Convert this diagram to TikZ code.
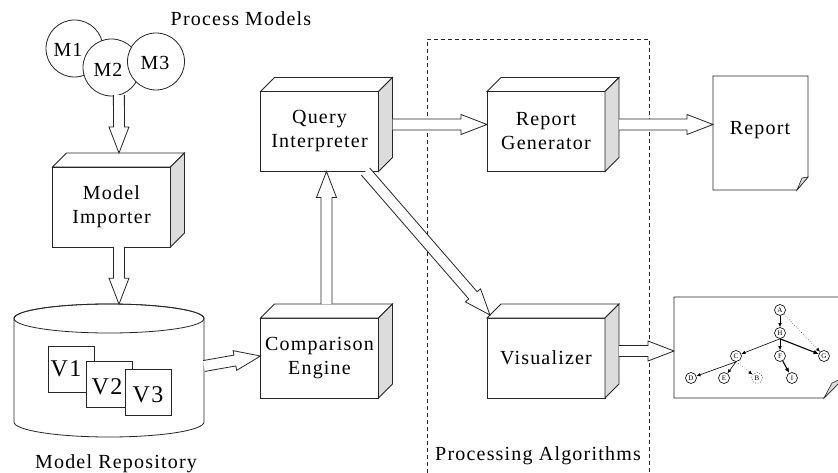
\documentclass[tikz,border=0pt]{standalone}
\usepackage{fontspec}
\setmainfont{Liberation Serif}[LetterSpace=6]
\usetikzlibrary{calc,arrows.meta}
\definecolor{sidegray}{HTML}{DCDCDC}
\definecolor{edgecol}{HTML}{262626}
\tikzset{
  box/.style={draw=edgecol, fill=white, minimum width=118pt, minimum height=80pt,
    inner sep=0pt, outer sep=0pt, align=center},
  mcirc/.style={circle, draw=edgecol, fill=white, minimum size=57pt, inner sep=0pt, outer sep=0pt},
  vsq/.style={draw=edgecol, fill=white, minimum size=46pt, inner sep=0pt, outer sep=0pt},
  harrowline/.style={draw=edgecol, fill=white, line width=0.8pt, line join=miter},
  gnode/.style={circle, draw=black, minimum size=11pt, inner sep=0pt, line width=0.6pt,
    font=\fontsize{7}{7}\selectfont},
  gedge/.style={-{Latex[length=4pt,width=3.5pt]}, line width=0.6pt},
  gthick/.style={-{Latex[length=5pt,width=4.5pt]}, line width=1.1pt},
  gdot/.style={-{Latex[length=4pt,width=3.5pt]}, line width=0.5pt, dotted},
}
\newcommand\harrow[2]{%
  \coordinate (hb) at ($(#2)!26pt!(#1)$);
  \filldraw[harrowline] ($(#1)!5.5pt!90:(#2)$) -- ($(hb)!5.5pt!90:(#2)$) -- ($(hb)!10pt!90:(#2)$) -- (#2)
    -- ($(hb)!10pt!-90:(#2)$) -- ($(hb)!5.5pt!-90:(#2)$) -- ($(#1)!5.5pt!-90:(#2)$);
}
\begin{document}
\begin{tikzpicture}[x=1pt, y=-1pt, line width=0.8pt, font=\fontsize{20}{24}\selectfont]
\useasboundingbox (0,0) rectangle (838,473);
\fill[white] (0,0) rectangle (838,473);

% dashed processing area
\draw[edgecol, line width=0.7pt, dash pattern=on 4pt off 3pt] (427,480) -- (427,39) -- (649,39) -- (649,480);
\node[anchor=base] (palabel) at (538,460) {Processing Algorithms};

% process models
\node[anchor=base west] (pmlabel) at (167,26) {Process Models};
\node[mcirc] (m1) at (74.5,48.5) {};
\node (m1l) at (68,50) {M1};
\node[mcirc] (m2) at (111.5,67.5) {};
\node (m2l) at (108,70) {M2};
\node[mcirc] (m3) at (156,61.5) {};
\node (m3l) at (155,63) {M3};

% boxes
\node[box] (mi) at (111.5,207) {Model\\Importer};
\node[box] (qi) at (319.5,131.5) {Query\\Interpreter};
\node[box] (ce) at (319.5,358) {Comparison\\Engine};
\node[box] (rg) at (546,131.5) {Report\\Generator};
\node[box] (vi) at (546,358) {Visualizer};
\foreach \n in {mi,qi,ce,rg,vi}{
  \filldraw[draw=edgecol, fill=white] (\n.north west) -- ++(14,-14) -- ($(\n.north east)+(14,-14)$) -- (\n.north east) -- cycle;
  \filldraw[draw=edgecol, fill=sidegray] (\n.north east) -- ++(14,-14) -- ($(\n.south east)+(14,-14)$) -- (\n.south east) -- cycle;
}

% repository cylinder
\filldraw[draw=edgecol, fill=white] (14,318.5) -- (14,422) arc[start angle=180, end angle=360, x radius=95pt, y radius=15pt]
  -- (204,318.5) arc[start angle=0, end angle=180, x radius=95pt, y radius=14.5pt] -- cycle;
\draw[edgecol] (109,318.5) ellipse [x radius=95pt, y radius=14.5pt];
\coordinate (dbtop) at (119,304.2);
\coordinate (dbright) at (204,366);
\node[vsq] (v1) at (71,369.5) {};
\node[font=\fontsize{24}{24}\selectfont] (v1l) at (66,369) {V1};
\node[vsq] (v2) at (109.5,384.5) {};
\node[font=\fontsize{24}{24}\selectfont] (v2l) at (107,387) {V2};
\node[vsq] (v3) at (148.5,392.5) {};
\node[font=\fontsize{24}{24}\selectfont] (v3l) at (148,395) {V3};
\node[anchor=base] (mrlabel) at (116,468) {Model Repository};

% report page
\node[minimum width=95pt, minimum height=114pt, inner sep=0pt, outer sep=0pt] (rep) at (760.5,133) {};
\filldraw[draw=edgecol, fill=white] (rep.north west) -- (rep.north east) -- ($(rep.south east)+(0,-13)$)
  -- ($(rep.south east)+(-11,0)$) -- (rep.south west) -- cycle;
\filldraw[draw=edgecol, fill=sidegray, line width=0.6pt] ($(rep.south east)+(-11,0)$) -- ($(rep.south east)+(0,-13)$) -- ($(rep.south east)+(-6,-12)$) -- cycle;
\node (repl) at (760,130) {Report};

% visualization page
\filldraw[draw=edgecol, fill=white] (674,297) -- (845,297) -- (845,377) -- (824,398) -- (674,398) -- cycle;
\filldraw[draw=edgecol, fill=sidegray, line width=0.6pt] (824,398) -- (845,377) -- (832,383) -- cycle;
\coordinate (visin) at (674,351);

% graph
\node[gnode] (A) at (780,310) {A};
\node[gnode] (H) at (780,333) {H};
\node[gnode] (C) at (736,356) {C};
\node[gnode] (F) at (780,356) {F};
\node[gnode] (G) at (824,356) {G};
\node[gnode] (D) at (691,378) {D};
\node[gnode] (E) at (724,378) {E};
\node[gnode, dotted] (B) at (757,378) {B};
\node[gnode] (I) at (792,378) {I};
\draw[gedge] (A) -- (H);
\draw[gedge] (H.south) -- (C);
\draw[gedge] (H) -- (F);
\draw[gthick] (H.south) -- (G);
\draw[gedge] (C.south) -- (D);
\draw[gedge] (C.south) -- (E);
\draw[gthick] (F) -- (I);
\draw[gdot] (A) -- (G);
\draw[gdot] (C.south) -- (B);

% hollow arrows
\coordinate (mitop) at ($(mi.north)+(7.5,-14)$);
\coordinate (mibot) at ($(mi.south)+(7.5,0)$);
\coordinate (cetop) at ($(ce.north)+(7,-14)$);
\coordinate (qibot) at ($(qi.south)+(7,0)$);
\coordinate (cein) at ($(ce.west)+(0,-2)$);
\coordinate (qiout) at ($(qi.east)+(14,-7)$);
\coordinate (rgin) at ($(rg.west)+(0,-7)$);
\coordinate (rgout) at ($(rg.east)+(14,-7)$);
\coordinate (repin) at ($(rep.west)+(0,-8.5)$);
\coordinate (viout) at ($(vi.east)+(14,-7)$);
\coordinate (qidiag) at ($(qi.south east)+(-13,0)$);
\coordinate (viin) at ($(vi.north west)+(3,-3)$);
\harrow{m2.-75}{mitop}
\harrow{mibot}{dbtop}
\harrow{dbright}{cein}
\harrow{cetop}{qibot}
\harrow{qiout}{rgin}
\harrow{rgout}{repin}
\harrow{viout}{visin}
\harrow{qidiag}{viin}
\end{tikzpicture}
\end{document}
